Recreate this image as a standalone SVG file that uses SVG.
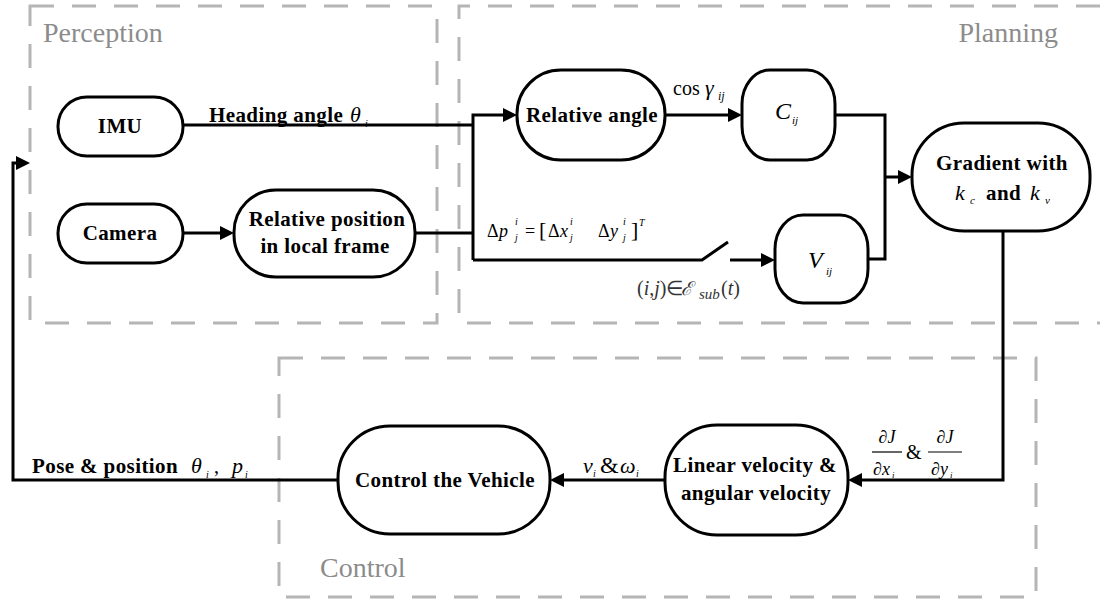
<svg xmlns="http://www.w3.org/2000/svg" width="1100" height="600" viewBox="0 0 1100 600">
  <style>
    .zone { fill: none; stroke: #b5b5b5; stroke-width: 3; stroke-dasharray: 24 18; }
    .node { fill: #fff; stroke: #000; stroke-width: 3; }
    .wire { fill: none; stroke: #000; stroke-width: 3; }
    .bar { stroke: #000; stroke-width: 1.2; }
  </style>
  <defs>
    <marker id="arrow" viewBox="0 0 14 14" markerWidth="14" markerHeight="14" markerUnits="userSpaceOnUse" refX="10" refY="7" orient="auto">
      <path d="M0,0 L14,7 L0,14 z" fill="#000"/>
    </marker>
  </defs>

  <rect width="1100" height="600" fill="#fff"/>

  <!-- dashed zones -->
  <g id="zones">
    <rect class="zone" x="30" y="6" width="407" height="317"/>
    <path class="zone" d="M1100,6 H459 V323 H1100"/>
    <rect class="zone" x="279" y="358" width="757" height="239"/>
    <text x="43" y="42" font-family="Liberation Serif" font-size="28" fill="#8c8c8c">Perception</text>
    <text x="1058" y="42" text-anchor="end" font-family="Liberation Serif" font-size="28" fill="#8c8c8c">Planning</text>
    <text x="320" y="577" font-family="Liberation Serif" font-size="28" fill="#8c8c8c">Control</text>
  </g>

  <!-- connectors -->
  <g id="connectors">
    <path class="wire" d="M183,125 H473"/>
    <path class="wire" d="M415,233 H473"/>
    <path class="wire" d="M183,233 H230" marker-end="url(#arrow)"/>
    <path class="wire" d="M473,260 V115 H513" marker-end="url(#arrow)"/>
    <path class="wire" d="M473,260 H702 L728,242"/>
    <path class="wire" d="M730,260 H771" marker-end="url(#arrow)"/>
    <path class="wire" d="M665,115 H738" marker-end="url(#arrow)"/>
    <path class="wire" d="M835,115 H885 V259 H868"/>
    <path class="wire" d="M885,177 H908" marker-end="url(#arrow)"/>
    <path class="wire" d="M1003,231 V480 H852" marker-end="url(#arrow)"/>
    <path class="wire" d="M665,480 H554" marker-end="url(#arrow)"/>
    <path class="wire" d="M338,480 H13 V163 H26" marker-end="url(#arrow)"/>

    <!-- connector labels -->
    <text x="209" y="122" font-family="Liberation Serif" font-weight="bold" font-size="21" letter-spacing="0.4">Heading angle</text>
    <text x="350" y="122" font-family="Liberation Serif" font-style="italic" font-size="22">θ</text>
    <text x="365" y="127" font-family="Liberation Serif" font-style="italic" font-size="10">i</text>

    <text x="673" y="95" font-family="Liberation Serif" font-size="20">cos</text>
    <text x="705" y="95" font-family="Liberation Serif" font-style="italic" font-size="22">γ</text>
    <text x="718" y="100" font-family="Liberation Serif" font-style="italic" font-size="12">ij</text>

    <text x="487" y="237" font-family="Liberation Serif" font-size="18">Δ</text>
    <text x="499" y="237" font-family="Liberation Serif" font-style="italic" font-size="18">p</text>
    <text x="515" y="225" font-family="Liberation Serif" font-style="italic" font-size="10">i</text>
    <text x="515" y="241" font-family="Liberation Serif" font-style="italic" font-size="10">j</text>
    <text x="525" y="237" font-family="Liberation Serif" font-size="18">=</text>
    <text x="539" y="237" font-family="Liberation Serif" font-size="22">[</text>
    <text x="548" y="237" font-family="Liberation Serif" font-size="18">Δ</text>
    <text x="560" y="237" font-family="Liberation Serif" font-style="italic" font-size="18">x</text>
    <text x="570" y="225" font-family="Liberation Serif" font-style="italic" font-size="10">i</text>
    <text x="570" y="241" font-family="Liberation Serif" font-style="italic" font-size="10">j</text>
    <text x="598" y="237" font-family="Liberation Serif" font-size="18">Δ</text>
    <text x="610" y="237" font-family="Liberation Serif" font-style="italic" font-size="18">y</text>
    <text x="623" y="225" font-family="Liberation Serif" font-style="italic" font-size="10">i</text>
    <text x="623" y="241" font-family="Liberation Serif" font-style="italic" font-size="10">j</text>
    <text x="631" y="237" font-family="Liberation Serif" font-size="22">]</text>
    <text x="639" y="226" font-family="Liberation Serif" font-style="italic" font-size="10">T</text>

    <text x="637" y="295" font-family="Liberation Serif" font-size="20" fill="#333">(<tspan font-style="italic">i</tspan>,<tspan font-style="italic">j</tspan>)∈</text>
    <text x="681" y="295" font-family="DejaVu Serif" font-style="italic" font-size="19" fill="#333">ℰ</text>
    <text x="699" y="299" font-family="Liberation Serif" font-style="italic" font-size="15" fill="#333">sub</text>
    <text x="721" y="295" font-family="Liberation Serif" font-size="20" fill="#333">(<tspan font-style="italic">t</tspan>)</text>

    <!-- partial derivatives -->
    <text x="887" y="443" text-anchor="middle" font-family="Liberation Serif" font-style="italic" font-size="18">∂J</text>
    <line class="bar" x1="872" y1="452" x2="902" y2="452"/>
    <text x="873" y="475" font-family="Liberation Serif" font-style="italic" font-size="18">∂x</text>
    <text x="892" y="478" font-family="Liberation Serif" font-style="italic" font-size="9">i</text>
    <text x="906" y="459" font-family="Liberation Serif" font-size="20">&amp;</text>
    <text x="945" y="443" text-anchor="middle" font-family="Liberation Serif" font-style="italic" font-size="18">∂J</text>
    <line class="bar" x1="928" y1="452" x2="962" y2="452"/>
    <text x="931" y="475" font-family="Liberation Serif" font-style="italic" font-size="18">∂y</text>
    <text x="950" y="478" font-family="Liberation Serif" font-style="italic" font-size="9">i</text>

    <text x="583" y="473" font-family="Liberation Serif" font-style="italic" font-size="22">v</text>
    <text x="593" y="477" font-family="Liberation Serif" font-style="italic" font-size="10">i</text>
    <text x="600" y="473" font-family="Liberation Serif" font-size="24">&amp;</text>
    <text x="620" y="473" font-family="Liberation Serif" font-style="italic" font-size="22">ω</text>
    <text x="636" y="477" font-family="Liberation Serif" font-style="italic" font-size="10">i</text>

    <text x="32" y="473" font-family="Liberation Serif" font-weight="bold" font-size="21" letter-spacing="0.4">Pose &amp; position</text>
    <text x="191" y="473" font-family="Liberation Serif" font-style="italic" font-size="22">θ</text>
    <text x="206" y="478" font-family="Liberation Serif" font-style="italic" font-size="10">i</text>
    <text x="214" y="473" font-family="Liberation Serif" font-size="20">,</text>
    <text x="232" y="473" font-family="Liberation Serif" font-style="italic" font-size="22">p</text>
    <text x="245" y="478" font-family="Liberation Serif" font-style="italic" font-size="10">i</text>
  </g>

  <!-- nodes -->
  <g id="imu">
    <rect class="node" x="58" y="97" width="125" height="59" rx="29"/>
    <text x="120" y="133" text-anchor="middle" font-family="Liberation Serif" font-weight="bold" font-size="21" letter-spacing="0.4">IMU</text>
  </g>
  <g id="camera">
    <rect class="node" x="58" y="204" width="125" height="59" rx="29"/>
    <text x="120" y="240" text-anchor="middle" font-family="Liberation Serif" font-weight="bold" font-size="21" letter-spacing="0.4">Camera</text>
  </g>
  <g id="relative-position">
    <rect class="node" x="234" y="190" width="181" height="87" rx="42"/>
    <text x="327" y="226" text-anchor="middle" font-family="Liberation Serif" font-weight="bold" font-size="21" letter-spacing="0.4">Relative position</text>
    <text x="325" y="253" text-anchor="middle" font-family="Liberation Serif" font-weight="bold" font-size="21" letter-spacing="0.4">in local frame</text>
  </g>
  <g id="relative-angle">
    <rect class="node" x="517" y="70" width="148" height="90" rx="44"/>
    <text x="592" y="122" text-anchor="middle" font-family="Liberation Serif" font-weight="bold" font-size="21" letter-spacing="0.4">Relative angle</text>
  </g>
  <g id="c-ij">
    <rect class="node" x="742" y="70" width="93" height="90" rx="28" ry="34"/>
    <text x="775" y="119" font-family="Liberation Serif" font-style="italic" font-size="24">C</text>
    <text x="792" y="124" font-family="Liberation Serif" font-style="italic" font-size="11">ij</text>
  </g>
  <g id="v-ij">
    <rect class="node" x="775" y="215" width="93" height="88" rx="28" ry="34"/>
    <text x="808" y="268" font-family="Liberation Serif" font-style="italic" font-size="24">V</text>
    <text x="826" y="275" font-family="Liberation Serif" font-style="italic" font-size="11">ij</text>
  </g>
  <g id="gradient">
    <rect class="node" x="912" y="123" width="178" height="108" rx="52"/>
    <text x="1002" y="170" text-anchor="middle" font-family="Liberation Serif" font-weight="bold" font-size="21" letter-spacing="0.4">Gradient with</text>
    <text x="955" y="200" font-family="Liberation Serif" font-style="italic" font-size="22">k</text>
    <text x="970" y="204" font-family="Liberation Serif" font-style="italic" font-size="11">c</text>
    <text x="986" y="200" font-family="Liberation Serif" font-weight="bold" font-size="21" letter-spacing="0.4">and</text>
    <text x="1030" y="200" font-family="Liberation Serif" font-style="italic" font-size="22">k</text>
    <text x="1045" y="204" font-family="Liberation Serif" font-style="italic" font-size="11">v</text>
  </g>
  <g id="control-vehicle">
    <rect class="node" x="338" y="426" width="212" height="108" rx="52"/>
    <text x="445" y="487" text-anchor="middle" font-family="Liberation Serif" font-weight="bold" font-size="21" letter-spacing="0.4">Control the Vehicle</text>
  </g>
  <g id="velocity">
    <rect class="node" x="665" y="425" width="183" height="110" rx="52"/>
    <text x="755" y="472" text-anchor="middle" font-family="Liberation Serif" font-weight="bold" font-size="21" letter-spacing="0.4">Linear velocity &amp;</text>
    <text x="756" y="500" text-anchor="middle" font-family="Liberation Serif" font-weight="bold" font-size="21" letter-spacing="0.4">angular velocity</text>
  </g>
</svg>
